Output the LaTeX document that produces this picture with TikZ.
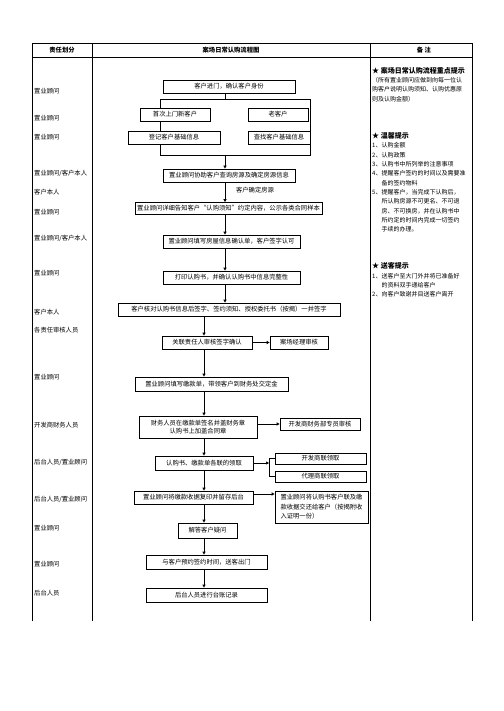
\documentclass[tikz,border=0pt]{standalone}
\usepackage{fontspec}
\newfontfamily\cjk{Noto Sans CJK SC}
\usetikzlibrary{arrows.meta}
\begin{document}
\begin{tikzpicture}[x=1pt,y=-1pt,
  font=\cjk\fontsize{6.3}{8}\selectfont,
  box/.style={draw, line width=0.7pt, fill=white, inner sep=0pt, align=center},
  arr/.style={-{Triangle[length=3pt,width=3pt]}, line width=0.7pt},
  ln/.style={line width=0.7pt},
  grid/.style={line width=0.8pt},
  lab/.style={anchor=west, inner sep=0pt},
  note/.style={anchor=north west, inner sep=0pt, align=left, font=\cjk\fontsize{6}{9.3}\selectfont}]
\useasboundingbox (0,0) rectangle (503,711);
% table
\draw[grid] (32,621) -- (32,43) -- (472,43) -- (472,621);
\draw[grid] (32,57) -- (472,57);
\draw[grid] (92,43) -- (92,621);
\draw[grid] (370,43) -- (370,621);
\node[font=\cjk\bfseries\fontsize{6.3}{8}\selectfont] (h1) at (62,50) {责任划分};
\node[font=\cjk\bfseries\fontsize{6.3}{8}\selectfont] (h2) at (231,50) {案场日常认购流程图};
\node[font=\cjk\bfseries\fontsize{6.3}{8}\selectfont] (h3) at (424,50) {备\ 注};
% left column
\node[lab] (l1) at (34,91) {置业顾问};
\node[lab] (l2) at (34,118) {置业顾问};
\node[lab] (l3) at (34,137) {置业顾问};
\node[lab] (l4) at (34,173) {置业顾问/客户本人};
\node[lab] (l5) at (34,192) {客户本人};
\node[lab] (l6) at (34,212) {置业顾问};
\node[lab] (l7) at (34,238) {置业顾问/客户本人};
\node[lab] (l8) at (34,273) {置业顾问};
\node[lab] (l9) at (34,312) {客户本人};
\node[lab] (l10) at (34,330) {各责任审核人员};
\node[lab] (l11) at (34,377) {置业顾问};
\node[lab] (l12) at (34,425) {开发商财务人员};
\node[lab] (l13) at (34,462) {后台人员/置业顾问};
\node[lab] (l14) at (34,499) {后台人员/置业顾问};
\node[lab] (l15) at (34,528) {置业顾问};
\node[lab] (l16) at (34,564) {置业顾问};
\node[lab] (l17) at (34,593) {后台人员};
% spine coordinates
\coordinate (sa) at (225,0);
\coordinate (sb) at (204,0);
% bracket at top
\coordinate (q1) at (160,99);
\coordinate (q2) at (310,99);
\coordinate (q3) at (310,155);
\coordinate (q4) at (160,155);
\coordinate (q5) at (225,99);
\coordinate (q6) at (225,155);
\draw[ln] (q1) -- (q2) -- (q3) -- (q4) -- cycle;
% boxes
\node[box, minimum width=132, minimum height=13] (b1) at (229,86.5) {客户进门，确认客户身份};
\node[box, minimum width=70, minimum height=13] (b2) at (175,114.5) {首次上门新客户};
\node[box, minimum width=60, minimum height=13] (b3) at (278,114.5) {老客户};
\node[box, minimum width=92, minimum height=13] (b4) at (174,137.5) {登记客户基础信息};
\node[box, minimum width=62, minimum height=13] (b5) at (279,137.5) {查找客户基础信息};
\node[box, minimum width=132, minimum height=13] (b6) at (229,175.5) {置业顾问协助客户查询房源及确定房源信息};
\node[inner sep=0pt] (t1) at (255,190) {客户确定房源};
\node[box, minimum width=187, minimum height=12] (b7) at (228.5,208.5) {置业顾问详细告知客户“认购须知”约定内容，公示各类合同样本};
\node[box, minimum width=137, minimum height=13] (b8) at (231.5,241.5) {置业顾问填写房屋信息确认单，客户签字认可};
\node[box, minimum width=137, minimum height=13] (b9) at (231.5,277.5) {打印认购书，并确认认购书中信息完整性};
\node[box, minimum width=222, minimum height=13] (b10) at (229,309.5) {客户核对认购书信息后签字、签约须知、授权委托书（按揭）一并签字};
\node[box, minimum width=90, minimum height=13] (b11) at (207,342.5) {关联责任人审核签字确认};
\node[box, minimum width=58, minimum height=13] (b12) at (299,342.5) {案场经理审核};
\node[box, minimum width=153, minimum height=14] (b13) at (211.5,384) {置业顾问填写缴款单，带领客户到财务处交定金};
\node[box, minimum width=118, minimum height=22] (b14) at (198,427) {财务人员在缴款单签名并盖财务章\\认购书上加盖合同章};
\node[box, minimum width=80, minimum height=12] (b15) at (320,424) {开发商财务部专员审核};
\node[box, minimum width=98, minimum height=14] (b16) at (204,463) {认购书、缴款单各联的领取};
\node[box, minimum width=91, minimum height=11] (b17) at (320.5,458.5) {开发商联领取};
\node[box, minimum width=91, minimum height=11] (b18) at (320.5,476.5) {代理商联领取};
\node[box, minimum width=119, minimum height=13] (b19) at (193.5,497.5) {置业顾问将缴款收据复印并留存后台};
\node[box, minimum width=93, minimum height=32, align=left, font=\cjk\fontsize{6.3}{9.5}\selectfont] (b20) at (321.5,507) {置业顾问将认购书客户联及缴\\款收据交还给客户（按揭附收\\入证明一份）\hspace*{44pt}};
\node[box, minimum width=59, minimum height=15] (b21) at (207.5,530.5) {解答客户疑问};
\node[box, minimum width=121, minimum height=14] (b22) at (206.5,562) {与客户预约签约时间，送客出门};
\node[box, minimum width=121, minimum height=14] (b23) at (206.5,595) {后台人员进行台账记录};
% connectors
\draw[ln] (b1.south -| q5) -- (q5);
\draw[arr] (q6) -- (b6.north -| q6);
\draw[arr] (b6.south -| sa) -- (b7.north -| sa);
\draw[arr] (b7.south -| sa) -- (b8.north -| sa);
\draw[arr] (b8.south -| sa) -- (b9.north -| sa);
\draw[arr] (b9.south -| sa) -- (b10.north -| sa);
\draw[arr] (b10.south -| sb) -- (b11.north -| sb);
\draw[arr] (b11.east) -- (b12.west);
\draw[arr] (b11.south -| sb) -- (b13.north -| sb);
\draw[arr] (b13.south -| sb) -- (b14.north -| sb);
\draw[arr] (b14.east |- b15.west) -- (b15.west);
\draw[arr] (b14.south -| sb) -- (b16.north -| sb);
\coordinate (k1) at (269,463);
\coordinate (k2) at (269,458.5);
\coordinate (k3) at (269,476.5);
\draw[arr] (b16.east) -- (k1);
\draw[ln] (b17.west) -- (k2) -- (k3) -- (b18.west);
\draw[arr] (b16.south -| sb) -- (b19.north -| sb);
\draw[arr] (b19.east |- 0,494) -- (b20.west |- 0,494);
\draw[arr] (b19.south -| sb) -- (b21.north -| sb);
\draw[arr] (b21.south -| sb) -- (b22.north -| sb);
\draw[arr] (b22.south -| sb) -- (b23.north -| sb);
% notes
\node[note] (n1) at (372,67) {{\fontsize{7}{9.3}\selectfont\bfseries ★\ 案场日常认购流程重点提示}\\（所有置业顾问应做到向每一位认\\购客户说明认购须知、认购优惠原\\则及认购金额）};
\node[note] (n2) at (372,132.5) {{\fontsize{7}{9.3}\selectfont\bfseries ★\ 温馨提示}\\1、认购金额\\2、认购政策\\3、认购书中所列举的注意事项\\4、提醒客户签约的时间以及需要准\\\hspace*{9.5pt}备的签约物料\\5、提醒客户，当完成下认购后，\\\hspace*{9.5pt}所认购房源不可更名、不可退\\\hspace*{9.5pt}房、不可换房，并在认购书中\\\hspace*{9.5pt}所约定的时间内完成一切签约\\\hspace*{9.5pt}手续的办理。};
\node[note] (n3) at (372,262.5) {{\fontsize{7}{9.3}\selectfont\bfseries ★\ 送客提示}\\1、送客户至大门外并将已准备好\\\hspace*{9.5pt}的资料双手递给客户\\2、向客户致谢并目送客户离开};
\end{tikzpicture}
\end{document}
